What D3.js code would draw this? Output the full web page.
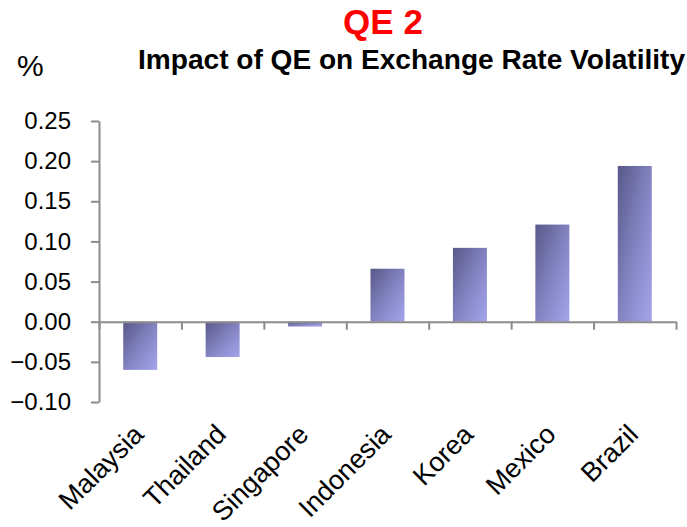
<!DOCTYPE html>
<html>
<head>
<meta charset="utf-8">
<script src="https://cdn.jsdelivr.net/npm/d3@7"></script>
<style>
  body { margin: 0; background: #fff; }
  svg { display: block; font-family: Arial, 'Liberation Sans', sans-serif; }
</style>
</head>
<body>
<svg id="chart" width="687" height="527"></svg>
<script>
const countries = ['Malaysia', 'Thailand', 'Singapore', 'Indonesia', 'Korea', 'Mexico', 'Brazil'];
const impact = [-0.060, -0.044, -0.006, 0.066, 0.092, 0.121, 0.194];
const yTicks = [-0.10, -0.05, 0.00, 0.05, 0.10, 0.15, 0.20, 0.25];

const svg = d3.select('#chart');
const axisColor = '#8c8c8c';

const x = d3.scaleBand()
  .domain(countries)
  .range([99, 676])
  .paddingInner(0.5875)
  .paddingOuter(0.29375);

const y = d3.scaleLinear()
  .domain([-0.10, 0.25])
  .range([402, 121]);

// diagonal gradient for the bars
const grad = svg.append('defs')
  .append('linearGradient')
  .attr('id', 'barFill')
  .attr('x1', 0).attr('y1', 0)
  .attr('x2', 1).attr('y2', 1);
grad.append('stop').attr('offset', '0%').attr('stop-color', '#585888');
grad.append('stop').attr('offset', '55%').attr('stop-color', '#8686c6');
grad.append('stop').attr('offset', '100%').attr('stop-color', '#a4a4ec');

// titles
svg.append('text')
  .attr('x', 383).attr('y', 34)
  .attr('text-anchor', 'middle')
  .attr('font-size', 35).attr('font-weight', 'bold')
  .attr('fill', '#ff0000')
  .text('QE 2');

svg.append('text')
  .attr('x', 138).attr('y', 69)
  .attr('font-size', 27).attr('font-weight', 'bold')
  .attr('fill', '#000')
  .attr('textLength', 547)
  .attr('lengthAdjust', 'spacingAndGlyphs')
  .text('Impact of QE on Exchange Rate Volatility');

svg.append('text')
  .attr('x', 17).attr('y', 76)
  .attr('font-size', 30)
  .text('%');

// bars
svg.append('g')
  .selectAll('rect')
  .data(countries)
  .join('rect')
  .attr('x', (d) => x(d))
  .attr('width', x.bandwidth())
  .attr('y', (d, i) => y(Math.max(0, impact[i])))
  .attr('height', (d, i) => Math.abs(y(impact[i]) - y(0)))
  .attr('fill', 'url(#barFill)');

// y axis
const yAxisG = svg.append('g')
  .attr('transform', 'translate(99,0)')
  .call(
    d3.axisLeft(y)
      .tickValues(yTicks)
      .tickSize(8)
      .tickSizeOuter(0)
      .tickPadding(20)
      .tickFormat(d3.format('.2f')),
  );
yAxisG.selectAll('.tick text')
  .attr('font-size', 24)
  .attr('fill', '#000')
  .attr('font-family', "Arial, 'Liberation Sans', sans-serif");

// x axis at zero, ticks on category boundaries
const xEdges = d3.scaleLinear().domain([0, countries.length]).range([99, 676]);
svg.append('g')
  .attr('transform', `translate(0,${y(0)})`)
  .call(
    d3.axisBottom(xEdges)
      .tickValues(d3.range(countries.length + 1))
      .tickSize(8)
      .tickSizeOuter(0)
      .tickFormat(''),
  );

svg.selectAll('.domain, .tick line')
  .attr('stroke', axisColor)
  .attr('stroke-width', 2);

// category labels
svg.append('g')
  .selectAll('text')
  .data(countries)
  .join('text')
  .attr('transform', (d) => `translate(${x(d) + x.bandwidth() / 2 + 5},436) rotate(-45)`)
  .attr('text-anchor', 'end')
  .attr('font-size', 27)
  .text((d) => d);
</script>
</body>
</html>
